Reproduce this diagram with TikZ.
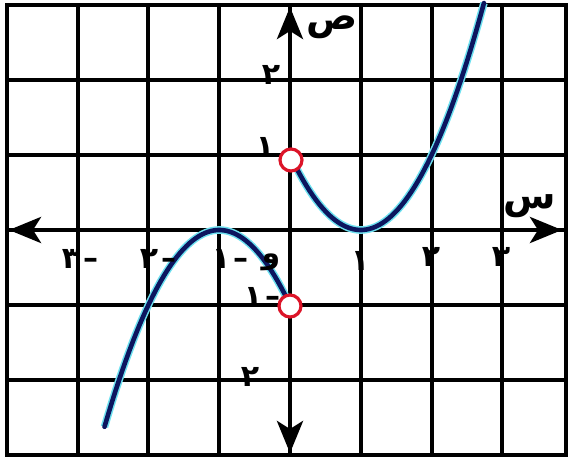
\documentclass[tikz,border=0pt]{standalone}
\usepackage{fontspec}
\usetikzlibrary{arrows.meta}
\newfontfamily\arabicfont[Script=Arabic]{DejaVu Sans}
\TeXXeTstate=1
\definecolor{curvenavy}{RGB}{12,22,95}
\definecolor{halo}{RGB}{110,225,240}
\definecolor{holered}{RGB}{220,20,40}
\newcommand{\negd}[1]{#1\kern1.5pt{\fontspec{DejaVu Sans}\bfseries –}}
\tikzset{
  gridline/.style={line width=2pt, black},
  axisline/.style={line width=2.2pt, black},
  bigtip/.style={-{Stealth[length=16pt,width=13pt,inset=4pt]}},
  curvehalo/.style={line width=3.8pt, halo},
  curvemain/.style={line width=2.3pt, curvenavy, line cap=round},
  hole/.style={circle, draw=holered, fill=white, line width=1.6pt, minimum size=11pt, inner sep=0pt},
  digit/.style={font=\arabicfont\bfseries\fontsize{15}{15}\selectfont, inner sep=0pt},
  letter/.style={font=\arabicfont\bfseries\fontsize{19}{19}\selectfont, inner sep=0pt}
}
\begin{document}
\begin{tikzpicture}[x=0.5pt,y=-0.5pt]
\useasboundingbox (0,0) rectangle (569,460);
% grid
\foreach \k in {-3,...,3} {\draw[gridline] ({290+70.8*\k},5) -- ({290+70.8*\k},455);}
\foreach \k in {-3,...,3} {\draw[gridline] (7,{230-75*\k}) -- (566,{230-75*\k});}
\draw[gridline] (7,5) rectangle (566,455);
% axes
\coordinate (xl) at (9,230);
\coordinate (xr) at (562,230);
\coordinate (yt) at (290,7);
\coordinate (yb) at (290,453);
\coordinate (o) at (290,230);
\draw[axisline,bigtip] (o) -- (xr);
\draw[axisline,bigtip] (o) -- (xl);
\draw[axisline,bigtip] (o) -- (yt);
\draw[axisline,bigtip] (o) -- (yb);
% curves
\draw[curvehalo] plot[domain=-2.62:0, samples=60] ({290+70.8*\x},{230+75*((\x+1)^2)});
\draw[curvehalo] plot[domain=0:2.74, samples=60] ({290+70.8*\x},{230-75*((\x-1)^2)});
\draw[curvemain] plot[domain=-2.62:0, samples=60] ({290+70.8*\x},{230+75*((\x+1)^2)});
\draw[curvemain] plot[domain=0:2.74, samples=60] ({290+70.8*\x},{230-75*((\x-1)^2)});
% open circles
\node[hole] (h1) at (291,160) {};
\node[hole] (h2) at (290,306) {};
% x labels
\node[digit] (xm3) at (80,259) {\negd{٣}};
\node[digit] (xm2) at (158,259) {\negd{٢}};
\node[digit] (xm1) at (230,259) {\negd{١}};
\node[digit] (orig) at (271,262) {و};
\node[digit] (xp1) at (360,261) {١};
\node[digit] (xp2) at (431,257) {٢};
\node[digit] (xp3) at (501,257) {٣};
% y labels
\node[digit] (yp2) at (271,75) {٢};
\node[digit] (yp1) at (265,147) {١};
\node[digit] (ym1) at (262,297) {\negd{١}};
\node[digit] (ym2) at (250,377) {٢};
% axis names
\node[letter] (ylab) at (332,27) {ص};
\node[letter] (xlab) at (530,206) {س};
\end{tikzpicture}
\end{document}
